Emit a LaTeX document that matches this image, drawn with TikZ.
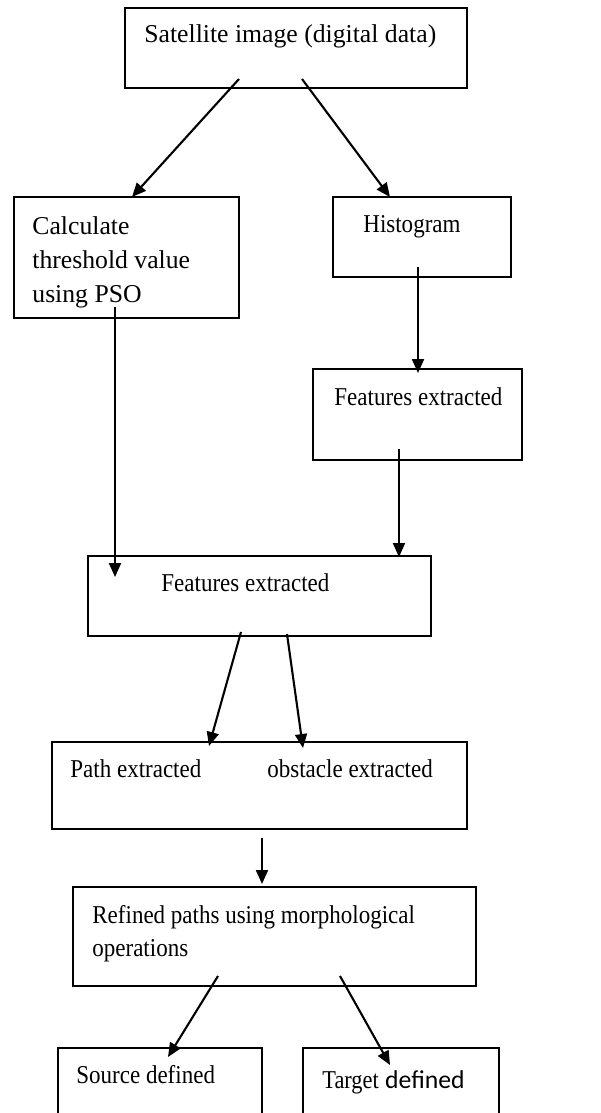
\documentclass[tikz,border=0pt]{standalone}
\usepackage{fontspec}
\usepackage{graphicx}
\setmainfont{Liberation Serif}
\newfontfamily\calibrifont{Carlito}
\newcommand\cz[1]{\scalebox{0.895}[1]{#1}}
\usetikzlibrary{arrows.meta}
\begin{document}
\begin{tikzpicture}[x=0.5pt,y=-0.5pt,
  box/.style={draw=black,line width=0.95pt,rectangle,inner sep=0pt},
  lbl/.style={anchor=base west,inner sep=0pt,font=\fontsize{12.85}{17}\selectfont},
  arr/.style={line width=1.05pt,-{Triangle[length=7pt,width=6pt]}}]
\useasboundingbox (0,0) rectangle (600,1113);
\clip (0,0) rectangle (600,1113);
% boxes
\node[box,minimum width=171pt,minimum height=40pt] (top) at (296,48) {};
\node[box,minimum width=112.5pt,minimum height=60.5pt] (calc) at (126.5,257.5) {};
\node[box,minimum width=89pt,minimum height=40pt] (hist) at (422,237) {};
\node[box,minimum width=104.5pt,minimum height=45.5pt] (featR) at (417.5,414.5) {};
\node[box,minimum width=171.5pt,minimum height=40pt] (featM) at (259.5,596) {};
\node[box,minimum width=207.5pt,minimum height=43.5pt] (path) at (259.5,785.5) {};
\node[box,minimum width=201.5pt,minimum height=49.5pt] (refined) at (274.5,936.5) {};
\node[box,minimum width=102pt,minimum height=41pt] (source) at (160,1089) {};
\node[box,minimum width=98pt,minimum height=41pt] (target) at (401,1089) {};
% texts
\node[lbl] (tTop) at (144,43) {Satellite image (digital data)};
\node[lbl] (tCalc1) at (32,234) {Calculate};
\node[lbl] (tCalc2) at (32,268) {threshold value};
\node[lbl] (tCalc3) at (32,302) {using PSO};
\node[lbl] (tHist) at (363,232) {\cz{Histogram}};
\node[lbl] (tFeatR) at (334,405) {\cz{Features extracted}};
\node[lbl] (tFeatM) at (161,591) {\cz{Features extracted}};
\node[lbl] (tPath) at (70,777) {\cz{Path extracted}};
\node[lbl] (tObst) at (267,777) {\cz{obstacle extracted}};
\node[lbl] (tRef1) at (92,923) {\cz{Refined paths using morphological}};
\node[lbl] (tRef2) at (92,956) {\cz{operations}};
\node[lbl] (tSrc) at (76,1083) {\cz{Source defined}};
\node[lbl] (tTgt) at (322,1088) {\scalebox{0.87}[1]{Target} {\calibrifont defined}};
% connector end points
\coordinate (a1s) at (239,79);  \coordinate (a1e) at (132,197);
\coordinate (a2s) at (302,79);  \coordinate (a2e) at (390,197);
\coordinate (a3s) at (115,307); \coordinate (a3e) at (115,577);
\coordinate (a4s) at (418,267); \coordinate (a4e) at (418,373);
\coordinate (a5s) at (399,449); \coordinate (a5e) at (399,557);
\coordinate (a6s) at (241,632); \coordinate (a6e) at (209,746);
\coordinate (a7s) at (287,634); \coordinate (a7e) at (303,748);
\coordinate (a8s) at (262,838); \coordinate (a8e) at (262,884);
\coordinate (a9s) at (218,976); \coordinate (a9e) at (168,1057);
\coordinate (a10s) at (340,976); \coordinate (a10e) at (390,1065);
\draw[arr] (a1s) -- (a1e);
\draw[arr] (a2s) -- (a2e);
\draw[arr] (a3s) -- (a3e);
\draw[arr] (a4s) -- (a4e);
\draw[arr] (a5s) -- (a5e);
\draw[arr] (a6s) -- (a6e);
\draw[arr] (a7s) -- (a7e);
\draw[arr] (a8s) -- (a8e);
\draw[arr] (a9s) -- (a9e);
\draw[arr] (a10s) -- (a10e);
\end{tikzpicture}
\end{document}
